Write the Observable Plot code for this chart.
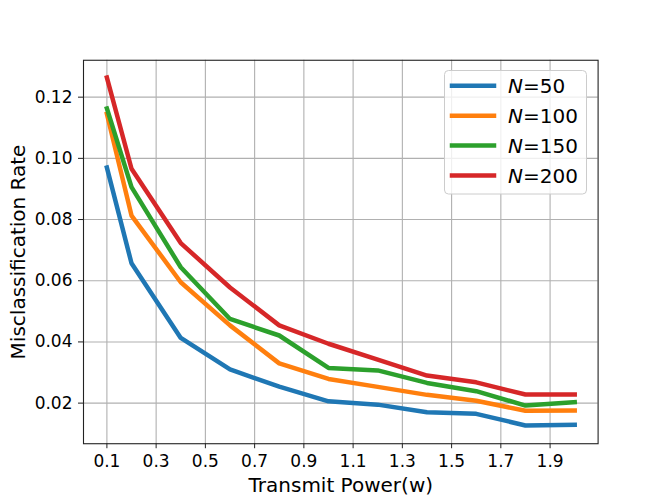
<!DOCTYPE html>
<html>
<head>
<meta charset="utf-8">
<script src="https://cdn.jsdelivr.net/npm/d3@7"></script>
<script src="https://cdn.jsdelivr.net/npm/@observablehq/plot@0.6"></script>
<style>
  html, body { margin: 0; padding: 0; background: white; }
  #wrap { position: relative; width: 664px; height: 498px; font-family: "DejaVu Sans", sans-serif; }
  #legend { position: absolute; left: 0; top: 0; }
</style>
</head>
<body>
<div id="wrap"></div>
<script>
// ---- data ----
const power = [0.1, 0.2, 0.4, 0.6, 0.8, 1.0, 1.2, 1.4, 1.6, 1.8, 2.0];
const n50  = [0.0970, 0.0657, 0.0413, 0.0310, 0.0254, 0.0206, 0.0195, 0.0170, 0.0165, 0.0127, 0.0129];
const n100 = [0.1145, 0.0813, 0.0595, 0.0454, 0.0330, 0.0279, 0.0253, 0.0227, 0.0208, 0.0175, 0.0176];
const n150 = [0.1163, 0.0906, 0.0644, 0.0475, 0.0421, 0.0315, 0.0307, 0.0266, 0.0239, 0.0192, 0.0203];
const n200 = [0.1264, 0.0966, 0.0723, 0.0578, 0.0454, 0.0394, 0.0342, 0.0290, 0.0268, 0.0228, 0.0228];
const seriesNames = ["50", "100", "150", "200"];
const seriesValues = [n50, n100, n150, n200];
const colors = ["#1f77b4", "#ff7f0e", "#2ca02c", "#d62728"];
const xTicks = [0.1, 0.3, 0.5, 0.7, 0.9, 1.1, 1.3, 1.5, 1.7, 1.9];
const yTicks = [0.02, 0.04, 0.06, 0.08, 0.10, 0.12];
const xLabel = "Transmit Power(w)";
const yLabel = "Misclassification Rate";

const rows = seriesNames.flatMap((s, i) =>
  power.map((p, j) => ({ series: s, x: p, y: seriesValues[i][j] })));

const chart = Plot.plot({
  width: 664,
  height: 498,
  marginLeft: 83,
  marginRight: 66.4,
  marginTop: 59.76,
  marginBottom: 54.78,
  style: { fontFamily: "DejaVu Sans", fontSize: "17px", background: "white", overflow: "visible", color: "black" },
  x: { domain: [0.005, 2.095] },
  y: { domain: [0.00673, 0.13206] },
  color: { domain: seriesNames, range: colors },
  marks: [
    Plot.gridX(xTicks, { stroke: "#b0b0b0", strokeOpacity: 1, strokeWidth: 1.1 }),
    Plot.gridY(yTicks, { stroke: "#b0b0b0", strokeOpacity: 1, strokeWidth: 1.1 }),
    Plot.line(rows, { x: "x", y: "y", z: "series", stroke: "series", strokeWidth: 4.5,
      strokeLinejoin: "round", strokeLinecap: "square" }),
    Plot.frame({ stroke: "#222", strokeWidth: 1.1 }),
    Plot.axisX(xTicks, { tickFormat: d3.format(".1f"), tickSize: 5, tickPadding: 6, fontSize: 17, label: null, stroke: "#222" }),
    Plot.axisY(yTicks, { tickFormat: d3.format(".2f"), tickSize: 5, tickPadding: 6, fontSize: 17, label: null, stroke: "#222" }),
    Plot.text([xLabel], { frameAnchor: "bottom", lineAnchor: "middle", textAnchor: "middle", dy: 41.4, fontSize: 20, text: d => d, fill: "black" }),
    Plot.text([yLabel], { frameAnchor: "left", lineAnchor: "middle", textAnchor: "middle", dx: -64.5, rotate: -90, fontSize: 20, text: d => d, fill: "black" })
  ]
});
document.getElementById("wrap").appendChild(chart);

// ---- legend (matplotlib-style box, upper right) ----
const lg = d3.select("#wrap").append("svg").attr("id", "legend")
  .attr("width", 664).attr("height", 498);
lg.append("rect").attr("x", 444.5).attr("y", 70.5).attr("width", 142).attr("height", 123.5)
  .attr("rx", 4).attr("fill", "white").attr("fill-opacity", 0.8).attr("stroke", "#cccccc").attr("stroke-width", 1);
seriesNames.forEach((s, i) => {
  const cy = 85.8 + i * 29.9;
  lg.append("line").attr("x1", 452).attr("x2", 494).attr("y1", cy).attr("y2", cy)
    .attr("stroke", colors[i]).attr("stroke-width", 4.5).attr("stroke-linecap", "square");
  const t = lg.append("text").attr("x", 508).attr("y", cy + 7.5)
    .attr("font-family", "DejaVu Sans").attr("font-size", 20).attr("fill", "black");
  t.append("tspan").attr("font-style", "italic").text("N");
  t.append("tspan").text("=" + s);
});
</script>
</body>
</html>
